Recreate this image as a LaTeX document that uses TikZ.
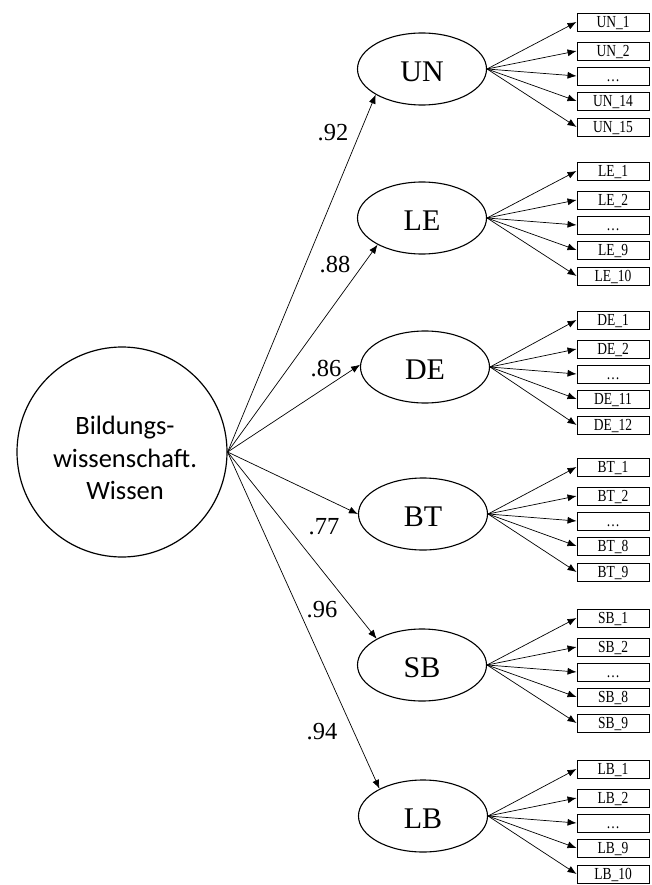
\documentclass[tikz,border=0pt]{standalone}
\usepackage{graphicx}
\usepackage{fontspec}
\setmainfont{Liberation Serif}
\newfontfamily\calibri{Carlito}
\usetikzlibrary{arrows.meta,shapes.geometric}
% indicator labels are set a little taller than wide
\newcommand{\tallitem}[1]{\scalebox{1}[1.25]{#1}}

\begin{document}
\begin{tikzpicture}[x=1pt,y=-1pt,
  general/.style={circle, draw, line width=1.2pt, minimum size=210pt, inner sep=0pt},
  gentext/.style={align=center, inner sep=0pt, font=\calibri\fontsize{26.5}{32.5}\selectfont},
  factor/.style={ellipse, draw, line width=1.1pt, minimum width=129pt, minimum height=72pt,
    inner sep=0pt, text height=25pt, text depth=0pt, font=\fontsize{30}{30}\selectfont},
  item/.style={rectangle, draw, line width=0.9pt, minimum width=72pt, minimum height=18pt,
    inner sep=0pt, text height=13pt, text depth=2pt, font=\fontsize{13.5}{13.5}\selectfont},
  load/.style={-{Latex[length=9pt,width=7pt]}, line width=0.7pt},
  coef/.style={inner sep=0pt, font=\fontsize{24.5}{24.5}\selectfont}]

\useasboundingbox (0,0) rectangle (652,885);

% general factor
\node[general] (G) at (122,452) {};
\node[gentext] (Gt) at (125,458) {Bildungs-\\wissenschaft.\\Wissen};

% specific factors, their indicators and the loading paths
\foreach \nm/\xx/\yy/\ang/\a/\b/\c/\d in {UN/422/69/209/1/2/14/15, LE/422/218/211/1/2/9/10,
    DE/425/367/178/1/2/11/12, BT/423/514/180/1/2/8/9,
    SB/422/665/150/1/2/8/9, LB/423/816/148/1/2/9/10} {
  \node[factor] (\nm) at (\xx,\yy) {\nm};
  \node[item] (\nm1) at (613,{\yy-47}) {\tallitem{\nm\_\a}};
  \node[item] (\nm2) at (613,{\yy-18}) {\tallitem{\nm\_\b}};
  \node[item] (\nm3) at (613,{\yy+7})  {\tallitem{\dots}};
  \node[item] (\nm4) at (613,{\yy+32}) {\tallitem{\nm\_\c}};
  \node[item] (\nm5) at (613,{\yy+58}) {\tallitem{\nm\_\d}};
  \foreach \i in {1,...,5} {
    \draw[load] (\nm.east) -- (\nm\i.west);
  }
  \draw[load] (G.east) -- (\nm.\ang);
}

% loadings
\node[coef] (c1) at (333,133) {.92};
\node[coef] (c2) at (335,265) {.88};
\node[coef] (c3) at (326,369) {.86};
\node[coef] (c4) at (324,527) {.77};
\node[coef] (c5) at (322,610) {.96};
\node[coef] (c6) at (322,732) {.94};
\end{tikzpicture}
\end{document}
